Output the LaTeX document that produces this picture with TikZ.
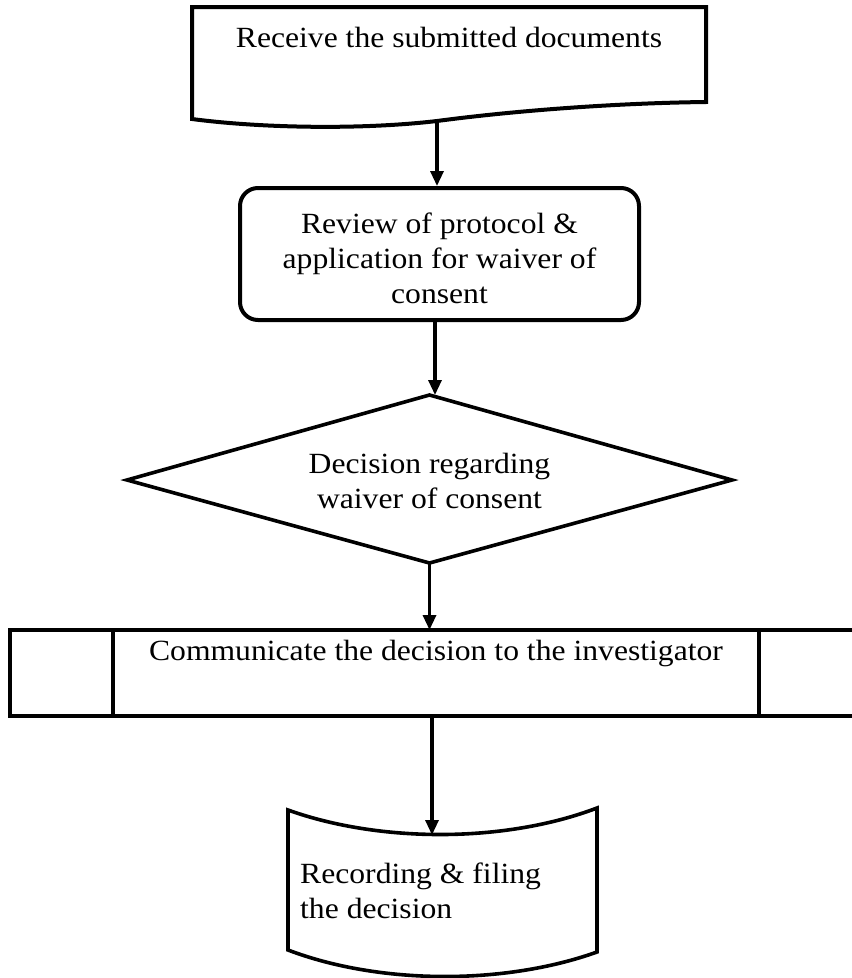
\documentclass[tikz,border=0pt]{standalone}
\usepackage{fontspec}
\setmainfont{Liberation Serif}[FakeStretch=1.08]
\usetikzlibrary{arrows.meta}
\begin{document}
\begin{tikzpicture}[x=1pt,y=-1pt,
  txt/.style={font=\fontsize{29.3}{35}\selectfont, inner sep=0pt},
  arr/.style={line width=3.2pt, -{Triangle[length=15pt,width=13pt]}},
  shp/.style={line width=4pt, line join=miter}]
\useasboundingbox (0,0) rectangle (852,978);
\fill[white] (0,0) rectangle (852,978);

% document shape
\draw[shp] (192,7) -- (706,7) -- (706,102)
  .. controls (620,103) and (520,110) .. (437,121)
  .. controls (360,130) and (260,128) .. (192,119) -- cycle;
\coordinate (docB) at (437,121);
\node[txt, anchor=base] (doc) at (449,47) {Receive the submitted documents};

% review (rounded rectangle)
\node[draw, shp, rounded corners=18pt, minimum width=399pt, minimum height=132pt, inner sep=0pt] (review) at (439.5,254) {};
\node[txt, align=center] (reviewtxt) at (439.5,258) {Review of protocol \&\\application for waiver of\\consent};

% decision (diamond)
\coordinate (decL) at (127,480);
\coordinate (decT) at (429.5,395);
\coordinate (decR) at (732,480);
\coordinate (decB) at (429.5,563);
\draw[line width=3.6pt, line join=miter] (decL) -- (decT) -- (decR) -- (decB) -- cycle;
\node[txt, align=center] (dectxt) at (429.5,480.5) {Decision regarding\\waiver of consent};

% predefined process
\draw[shp] (10,630) rectangle (870,716);
\draw[shp] (113,630) -- (113,716);
\draw[shp] (759,630) -- (759,716);
\coordinate (procT) at (429.5,630);
\coordinate (procB) at (432,716);
\node[txt, anchor=base] (proc) at (436,660) {Communicate the decision to the investigator};

% stored data
\draw[line width=3.6pt] (288,810)
  .. controls (380,843) and (505,843) .. (597,808) -- (597,952)
  .. controls (505,985) and (380,985) .. (288,950) -- cycle;
\coordinate (stoT) at (431,835);
\node[txt, align=left, anchor=west] (sto) at (300,890.5) {Recording \& filing\\the decision};

% connectors
\draw[arr] (docB) -- (docB |- review.north);
\draw[arr] ([xshift=-4.5pt]review.south) -- ([xshift=-4.5pt]review.south |- decT);
\draw[arr] (decB) -- (decB |- procT);
\draw[arr] (procB) -- (procB |- stoT);
\end{tikzpicture}
\end{document}
